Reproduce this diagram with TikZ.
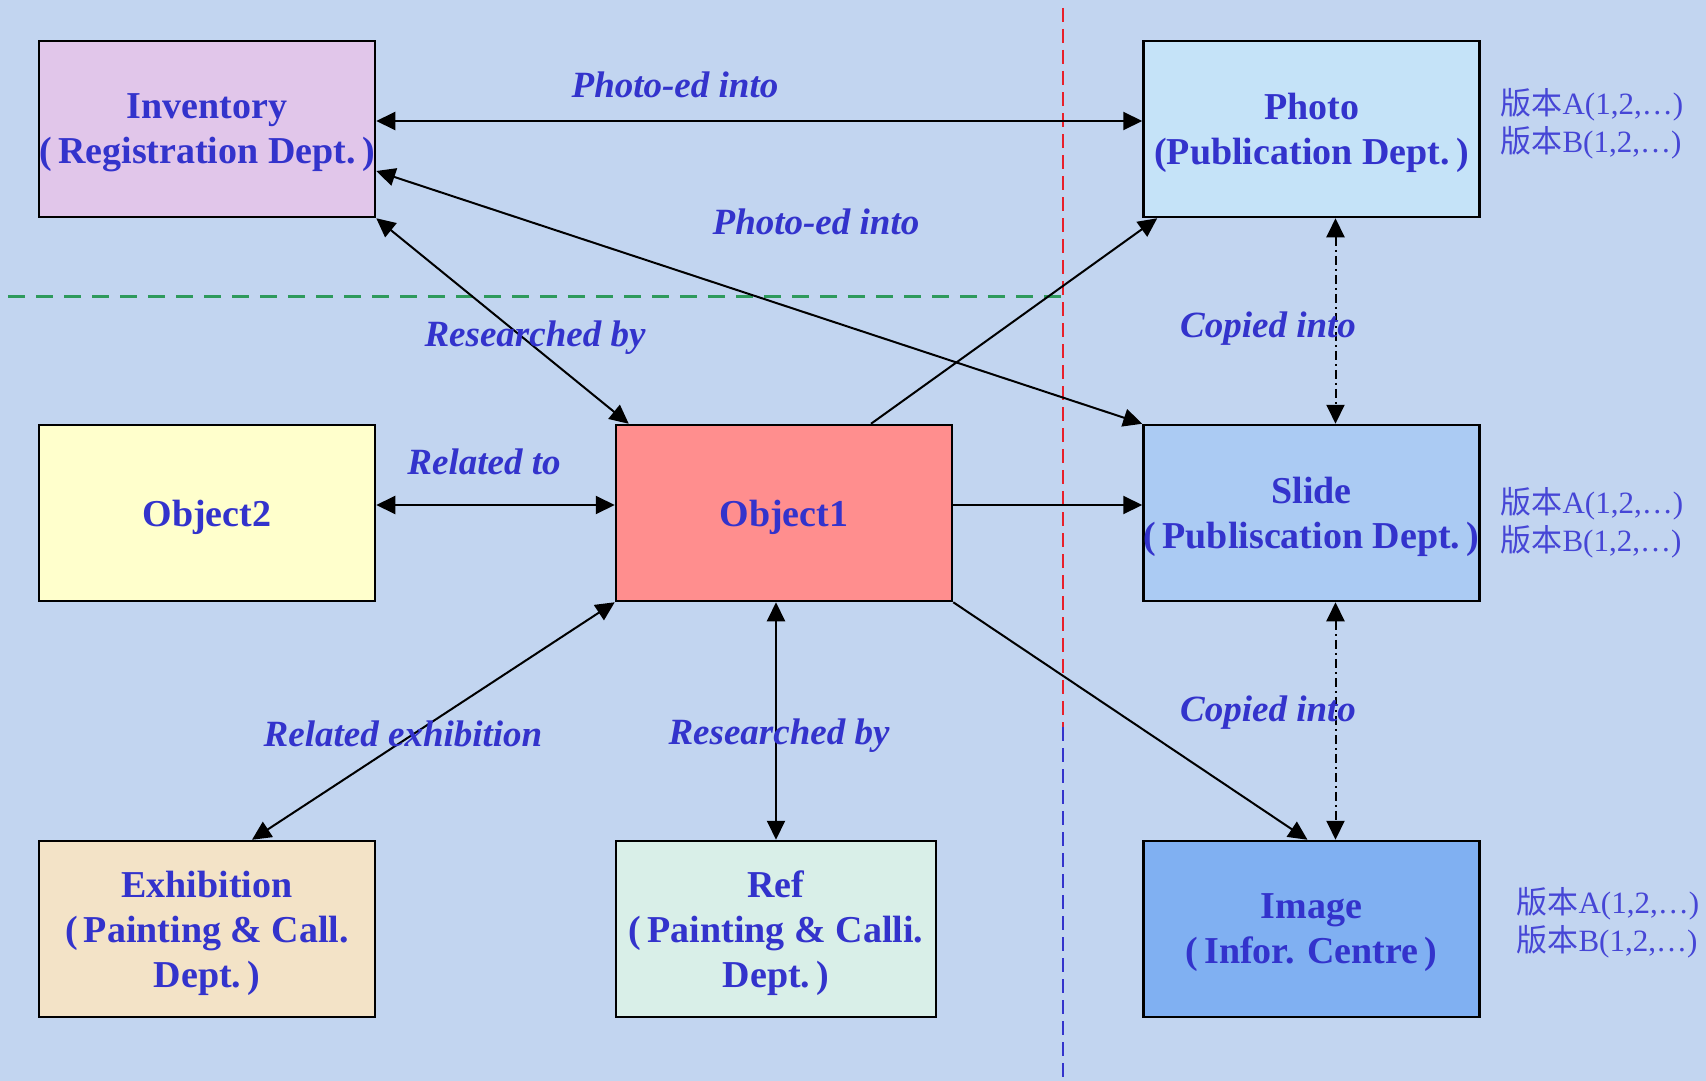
\documentclass[tikz,border=0pt]{standalone}
\usepackage{fontspec}
\setmainfont{Liberation Serif}
\newfontfamily\cjk{Noto Sans CJK SC}
\usetikzlibrary{arrows.meta, calc}
\definecolor{mubg}{HTML}{C2D5F0}
\definecolor{mutext}{HTML}{3333CC}
\definecolor{muver}{HTML}{4646D6}
\definecolor{mulilac}{HTML}{E1C6EA}
\definecolor{muphoto}{HTML}{C5E3F8}
\definecolor{muyellow}{HTML}{FFFFCC}
\definecolor{musalmon}{HTML}{FF8E8E}
\definecolor{muslide}{HTML}{ABCBF3}
\definecolor{mutan}{HTML}{F3E3C7}
\definecolor{mumint}{HTML}{D9EFE8}
\definecolor{muimage}{HTML}{80B0F2}
\definecolor{mugreen}{HTML}{2E9A5C}
\definecolor{mured}{HTML}{E8202A}

\begin{document}
\begin{tikzpicture}[x=1pt, y=-1pt,
  every node/.style={text=mutext},
  deptbox/.style={rectangle, draw=black, fill=#1, line width=2.5pt, minimum width=336pt, minimum height=176pt, inner sep=0pt, align=center, text depth=-10pt, font=\fontsize{38}{45}\selectfont\bfseries},
  linklabel/.style={text height=26pt, text depth=0pt, font=\fontsize{37}{44}\selectfont\bfseries\itshape},
  verlabel/.style={anchor=west, align=left, text=muver, font=\fontsize{31}{38}\selectfont},
  twoway/.style={line width=2pt, {Triangle[length=19pt,width=18pt]}-{Triangle[length=19pt,width=18pt]}},
  oneway/.style={line width=2pt, -{Triangle[length=19pt,width=18pt]}},
  copyway/.style={twoway, dash pattern=on 9pt off 4pt on 2pt off 4pt},
]
\fill[mubg] (0,0) rectangle (1706,1081);
\useasboundingbox (0,0) rectangle (1706,1081);

% separators
\draw[mugreen, line width=3pt, dash pattern=on 17pt off 11pt] (8,296) -- (1063,296);
\draw[mured, line width=2pt, dash pattern=on 14pt off 7pt] (1063,8) -- (1063,727);
\draw[mutext, line width=2pt, dash pattern=on 14pt off 7pt] (1063,727) -- (1063,1081);

\node[deptbox=mulilac] (inv) at (207,129) {Inventory\\(\,Registration Dept.\,)};
\node[deptbox=muphoto] (photo) at (1311.5,129) {Photo\\(Publication Dept.\,)};
\node[deptbox=muyellow] (objtwo) at (207,513) {Object2};
\node[deptbox=musalmon] (objone) at (784,513) {Object1};
\node[deptbox=muslide] (slide) at (1311.5,513) {Slide\\(\,Publiscation Dept.\,)};
\node[deptbox=mutan] (exhib) at (207,929) {Exhibition\\(\,Painting \& Call.\\Dept.\,)};
\node[deptbox=mumint, minimum width=320pt] (refd) at (776,929) {Ref\\(\,Painting \& Calli.\\Dept.\,)};
\node[deptbox=muimage] (image) at (1311.5,929) {Image\\(\,Infor. Centre\,)};

% versions
\node[verlabel] (photover) at (1497,124) {{\cjk 版本}A(1,2,…)\\{\cjk 版本}B(1,2,…)};
\node[verlabel] (slidever) at (1497,523) {{\cjk 版本}A(1,2,…)\\{\cjk 版本}B(1,2,…)};
\node[verlabel] (imagever) at (1513,923) {{\cjk 版本}A(1,2,…)\\{\cjk 版本}B(1,2,…)};

% links
\draw[twoway] ([yshift=8pt]inv.east) -- ([yshift=8pt]photo.west);
\draw[twoway] ([yshift=-42pt]inv.east) -- (slide.north west);
\draw[twoway] (inv.south east) -- ([xshift=14pt]objone.north west);
\draw[oneway] ([xshift=87pt]objone.north) -- ([xshift=15pt]photo.south west);
\draw[twoway] ([yshift=8pt]objtwo.east) -- ([yshift=8pt]objone.west);
\draw[oneway] ([yshift=8pt]objone.east) -- ([yshift=8pt]slide.west);
\draw[copyway] ([xshift=24pt]photo.south) -- ([xshift=24pt]slide.north);
\draw[copyway] ([xshift=24pt]slide.south) -- ([xshift=24pt]image.north);
\draw[oneway] (objone.south east) -- ([xshift=-4pt]image.north);
\draw[twoway] (objone.south west) -- ([xshift=45pt]exhib.north);
\draw[twoway] (objone.south -| refd.north) -- (refd.north);

\node[linklabel] (photoedtop) at (675,84) {Photo-ed into};
\node[linklabel] (photoedmid) at (816,221) {Photo-ed into};
\node[linklabel] (researchtop) at (535,333) {Researched by};
\node[linklabel] (relatedto) at (484,461) {Related to};
\node[linklabel] (copiedtop) at (1268,324) {Copied into};
\node[linklabel] (copiedlow) at (1268,708) {Copied into};
\node[linklabel] (relatedexh) at (403,733) {Related exhibition};
\node[linklabel] (researchlow) at (779,731) {Researched by};

\end{tikzpicture}
\end{document}
